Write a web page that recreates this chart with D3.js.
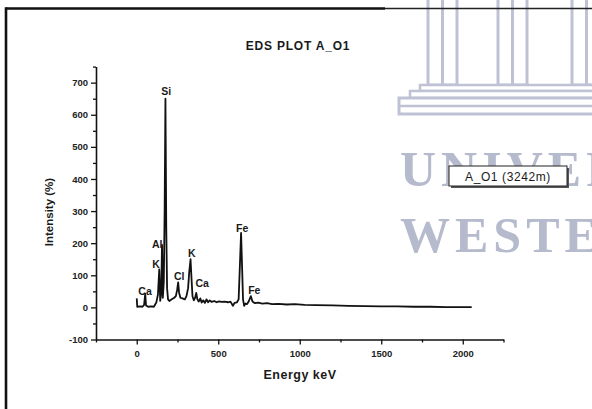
<!DOCTYPE html>
<html><head><meta charset="utf-8">
<script src="https://cdn.jsdelivr.net/npm/d3@7"></script>
<style>
html,body{margin:0;padding:0;background:#fff;}
svg{display:block;}
</style></head>
<body>
<svg id="chart" width="592" height="409"></svg>
<script>
// ---- data ----
const energy = [0,3,20,35,45,52,57,70,90,105,120,130,138,144,150,155,160,166,171,176,181,186,192,200,215,230,240,248,254,260,268,280,295,305,315,322,330,336,342,350,358,365,372,380,390,398,408,418,428,438,448,460,475,490,505,520,540,560,575,590,600,615,625,632,640,646,652,659,667,677,688,700,710,725,745,770,800,830,870,920,970,1030,1100,1200,1300,1400,1500,1600,1700,1800,1900,2000,2055];
const intensity = [28,2,3,2,8,42,6,2,3,2,15,40,118,20,45,195,30,80,300,650,250,60,25,20,25,30,35,55,78,45,30,28,25,35,60,110,150,90,35,22,30,45,25,18,28,15,22,14,25,16,22,17,20,16,19,17,18,16,18,5,14,16,25,120,232,130,25,5,12,10,20,35,18,13,15,12,13,10,11,9,10,8,7,6,5,4,3,3,2,2,1,1,1];
const peakNames = ["Ca","K","Al","Si","Cl","K","Ca","Fe","Fe"];
const peakEnergy = [51,119,125,180,260,337,401,647,721];
const peakLabelLevel = [39,123,185,660,85,157,63,235,42];
const xMajorTicks = [0,500,1000,1500,2000];
const xMinorTicks = [-250,250,750,1250,1750,2250];
const yMajorTicks = [-100,0,100,200,300,400,500,600,700];
const yMinorTicks = [-50,50,150,250,350,450,550,650,750];
const chartTitle = "EDS PLOT A_O1";
const xTitle = "Energy keV";
const yTitle = "Intensity (%)";
const seriesName = "A_O1 (3242m)";
const watermark1 = "UNIVER";
const watermark2 = "WESTE";

const svg = d3.select("#chart");
const W = 592, H = 409;
svg.append("rect").attr("width",W).attr("height",H).attr("fill","#ffffff");

// ---- watermark (background) ----
const wm = svg.append("g").attr("fill","none").attr("stroke","#bfc2d4");
[[428,457],[498,527],[572,601]].forEach(([a,b])=>{
  wm.append("rect").attr("x",a).attr("y",-5).attr("width",b-a).attr("height",90).attr("stroke-width",3);
  wm.append("line").attr("x1",(a+b)/2).attr("x2",(a+b)/2).attr("y1",0).attr("y2",85).attr("stroke-width",3);
});
wm.append("rect").attr("x",420).attr("y",85).attr("width",200).attr("height",6).attr("stroke-width",2.5).attr("fill","#fff");
wm.append("rect").attr("x",410).attr("y",91).attr("width",200).attr("height",7).attr("stroke-width",2.5).attr("fill","#fff");
wm.append("rect").attr("x",399).attr("y",98).attr("width",220).attr("height",16).attr("stroke-width",3).attr("fill","#fff");
wm.append("line").attr("x1",399).attr("x2",600).attr("y1",106).attr("y2",106).attr("stroke-width",2.5);
svg.append("text").attr("x",400).attr("y",186).text(watermark1)
  .attr("font-family","Liberation Serif, serif").attr("font-size",50).attr("font-weight","bold")
  .attr("letter-spacing",5).attr("fill","#b6bacd");
svg.append("text").attr("x",400).attr("y",252).text(watermark2)
  .attr("font-family","Liberation Serif, serif").attr("font-size",50).attr("font-weight","bold")
  .attr("letter-spacing",5).attr("fill","#b6bacd");

// ---- page border ----
svg.append("line").attr("x1",6).attr("x2",385).attr("y1",8.5).attr("y2",8.5).attr("stroke","#111").attr("stroke-width",2.6);
svg.append("line").attr("x1",385).attr("x2",W).attr("y1",8.5).attr("y2",8.5).attr("stroke","#222").attr("stroke-width",1.6);
svg.append("line").attr("x1",6).attr("x2",6).attr("y1",7.2).attr("y2",H).attr("stroke","#111").attr("stroke-width",2.6);

// ---- scales ----
const x = d3.scaleLinear().domain([-250,2250]).range([96,503.5]);
const y = d3.scaleLinear().domain([-100,750]).range([339.5,66.6]);
const fmt = d => String(d);

const axisG = svg.append("g").attr("font-family","Arial, Liberation Sans, sans-serif");

// x axis
const xAx = axisG.append("g").attr("transform",`translate(0,${y(-100)})`)
  .call(d3.axisBottom(x).tickValues(xMajorTicks).tickFormat(fmt).tickSize(5).tickPadding(4).tickSizeOuter(0));
axisG.append("g").attr("transform",`translate(0,${y(-100)})`)
  .call(d3.axisBottom(x).tickValues(xMinorTicks).tickSize(3).tickFormat("").tickSizeOuter(0))
  .select(".domain").remove();
// y axis
const yAx = axisG.append("g").attr("transform",`translate(${x(-250)},0)`)
  .call(d3.axisLeft(y).tickValues(yMajorTicks).tickFormat(fmt).tickSize(5).tickPadding(3).tickSizeOuter(0));
axisG.append("g").attr("transform",`translate(${x(-250)},0)`)
  .call(d3.axisLeft(y).tickValues(yMinorTicks).tickSize(3).tickFormat("").tickSizeOuter(0))
  .select(".domain").remove();

axisG.selectAll(".domain").attr("stroke","#111").attr("stroke-width",1.6);
axisG.selectAll(".tick line").attr("stroke","#111").attr("stroke-width",1.3);
axisG.selectAll(".tick text").attr("font-size",9.5).attr("font-weight","bold").attr("fill","#222")
  .attr("font-family","Arial, Liberation Sans, sans-serif");
xAx.selectAll(".tick text").attr("dy","0.9em");

// ---- spectrum ----
const pts = energy.map((e,i)=>[e,intensity[i]]);
svg.append("path").datum(pts)
  .attr("d", d3.line().x(d=>x(d[0])).y(d=>y(d[1])))
  .attr("fill","none").attr("stroke","#111").attr("stroke-width",1.8).attr("stroke-linejoin","round");

// ---- peak labels ----
svg.append("g").selectAll("text").data(peakNames).join("text")
  .attr("x",(d,i)=>x(peakEnergy[i])).attr("y",(d,i)=>y(peakLabelLevel[i]))
  .attr("text-anchor","middle").attr("font-size",10.5).attr("font-weight","bold")
  .attr("font-family","Arial, Liberation Sans, sans-serif").attr("fill","#1a1a1a")
  .text(d=>d);

// ---- titles ----
svg.append("text").attr("x",298).attr("y",49.5).attr("text-anchor","middle")
  .attr("font-family","Arial, Liberation Sans, sans-serif").attr("font-size",12).attr("font-weight","bold")
  .attr("letter-spacing",0.8).attr("fill","#1a1a1a").text(chartTitle);
svg.append("text").attr("x",300).attr("y",379).attr("text-anchor","middle")
  .attr("font-family","Arial, Liberation Sans, sans-serif").attr("font-size",12.5).attr("font-weight","bold")
  .attr("letter-spacing",0.5).attr("fill","#1a1a1a").text(xTitle);
svg.append("text").attr("transform","translate(53,212) rotate(-90)").attr("text-anchor","middle")
  .attr("font-family","Arial, Liberation Sans, sans-serif").attr("font-size",11.5).attr("font-weight","bold")
  .attr("fill","#1a1a1a").text(yTitle);

// ---- legend ----
const lg = svg.append("g");
lg.append("rect").attr("x",451).attr("y",168).attr("width",118).attr("height",20).attr("fill","#555");
lg.append("rect").attr("x",449).attr("y",166).attr("width",118).attr("height",20)
  .attr("fill","#ffffff").attr("stroke","#222").attr("stroke-width",1);
lg.append("text").attr("x",508).attr("y",180.5).attr("text-anchor","middle")
  .attr("font-family","Arial, Liberation Sans, sans-serif").attr("font-size",12).attr("letter-spacing",0.6)
  .attr("fill","#1a1a1a").text(seriesName);
</script>
</body></html>
